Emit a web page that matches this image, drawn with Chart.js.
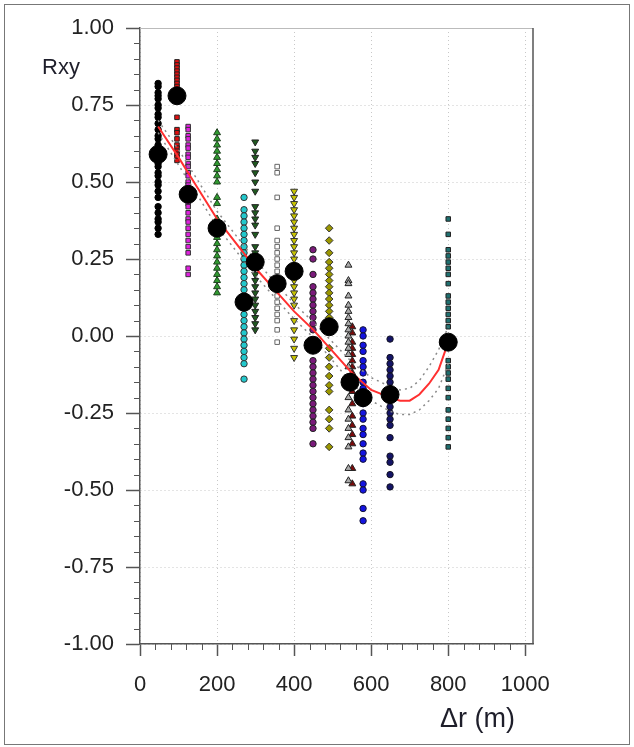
<!DOCTYPE html>
<html>
<head>
<meta charset="utf-8">
<script src="https://cdn.jsdelivr.net/npm/chart.js@4.4.1/dist/chart.umd.min.js"></script>
<style>
  body { margin: 0; background: #fff; }
  #wrap { position: relative; width: 634px; height: 747px; }
  #frame {
    position: absolute; left: 4px; top: 4px; width: 624px; height: 739px;
    border: 1px solid #777; pointer-events: none;
  }
</style>
</head>
<body>
<div id="wrap">
  <canvas id="rxyChart" width="634" height="747"></canvas>
  <div id="frame"></div>
</div>
<script>
// distance (m) of each group of pairs
const grupoX = [47, 96, 125, 200, 270, 299, 356, 400, 449, 491, 541, 551, 579, 649, 800];

// Rxy values of each group
const grupo1 = [0.82, 0.81, 0.79, 0.78, 0.77, 0.75, 0.74, 0.72, 0.71, 0.69, 0.67, 0.65, 0.64, 0.62, 0.60, 0.58, 0.56, 0.55, 0.53, 0.52, 0.50, 0.49, 0.47, 0.45, 0.42, 0.40, 0.38, 0.37, 0.35, 0.33];
const grupo2 = [0.89, 0.88, 0.87, 0.86, 0.85, 0.84, 0.83, 0.82, 0.81, 0.80, 0.79, 0.71, 0.67, 0.66, 0.64, 0.62, 0.61, 0.60, 0.59, 0.58, 0.57];
const grupo3 = [0.68, 0.67, 0.65, 0.64, 0.62, 0.61, 0.59, 0.58, 0.56, 0.55, 0.53, 0.52, 0.50, 0.49, 0.47, 0.45, 0.43, 0.42, 0.40, 0.38, 0.37, 0.35, 0.33, 0.31, 0.29, 0.27, 0.22, 0.20];
const grupo4 = [0.66, 0.64, 0.62, 0.60, 0.58, 0.56, 0.54, 0.52, 0.50, 0.45, 0.43, 0.38, 0.36, 0.34, 0.32, 0.30, 0.28, 0.26, 0.24, 0.22, 0.20, 0.18, 0.16, 0.14];
const grupo5 = [0.45, 0.41, 0.39, 0.37, 0.35, 0.33, 0.31, 0.29, 0.27, 0.25, 0.23, 0.21, 0.19, 0.17, 0.15, 0.13, 0.09, 0.07, 0.05, 0.03, 0.01, -0.01, -0.03, -0.05, -0.07, -0.09, -0.14];
const grupo6 = [0.63, 0.60, 0.58, 0.56, 0.53, 0.50, 0.47, 0.42, 0.40, 0.38, 0.36, 0.33, 0.29, 0.27, 0.25, 0.22, 0.20, 0.18, 0.16, 0.14, 0.12, 0.10, 0.08, 0.06, 0.04, 0.02];
const grupo7 = [0.55, 0.53, 0.45, 0.35, 0.31, 0.29, 0.27, 0.25, 0.23, 0.21, 0.19, 0.17, 0.15, 0.13, 0.11, 0.09, 0.07, 0.05, 0.02, -0.02];
const grupo8 = [0.47, 0.45, 0.43, 0.41, 0.39, 0.37, 0.35, 0.33, 0.31, 0.29, 0.27, 0.25, 0.20, 0.18, 0.16, 0.14, 0.12, 0.10, 0.05, 0.02, -0.01, -0.04, -0.07];
const grupo9 = [0.28, 0.25, 0.20, 0.16, 0.14, 0.12, 0.10, 0.08, 0.06, 0.04, 0.02, -0.08, -0.10, -0.12, -0.14, -0.16, -0.18, -0.20, -0.22, -0.24, -0.26, -0.28, -0.30, -0.35];
const grupo10 = [0.35, 0.31, 0.27, 0.24, 0.22, 0.20, 0.18, 0.16, 0.14, 0.12, 0.10, 0.08, 0.06, 0.03, -0.04, -0.07, -0.10, -0.13, -0.16, -0.18, -0.24, -0.27, -0.30, -0.36];
const grupo11 = [0.23, 0.18, 0.17, 0.13, 0.10, 0.08, 0.06, 0.04, 0.02, 0.00, -0.02, -0.04, -0.06, -0.10, -0.20, -0.24, -0.27, -0.30, -0.33, -0.36, -0.43, -0.47];
const grupo12 = [0.03, 0.01, -0.02, -0.04, -0.06, -0.08, -0.10, -0.12, -0.14, -0.18, -0.22, -0.26, -0.29, -0.32, -0.35, -0.43, -0.48];
const grupo13 = [0.02, 0.00, -0.03, -0.05, -0.08, -0.10, -0.12, -0.15, -0.17, -0.20, -0.22, -0.25, -0.27, -0.30, -0.32, -0.35, -0.38, -0.40, -0.48, -0.50, -0.56, -0.60];
const grupo14 = [-0.01, -0.07, -0.09, -0.11, -0.13, -0.15, -0.17, -0.19, -0.21, -0.23, -0.25, -0.27, -0.29, -0.33, -0.39, -0.41, -0.45, -0.49];
const grupo15 = [0.38, 0.33, 0.28, 0.26, 0.24, 0.22, 0.20, 0.17, 0.13, 0.11, 0.09, 0.07, 0.05, 0.03, -0.08, -0.10, -0.12, -0.14, -0.17, -0.20, -0.24, -0.27, -0.30, -0.33, -0.36];

// group means
const mediaX = [47, 96, 125, 200, 270, 299, 356, 400, 449, 491, 545, 579, 649, 800];
const mediaY = [0.59, 0.78, 0.46, 0.35, 0.11, 0.24, 0.17, 0.21, -0.03, 0.03, -0.15, -0.20, -0.19, -0.02];

// fitted curve and its confidence band
const ajusteX = [47, 100, 150, 200, 250, 300, 350, 400, 450, 500, 550, 600, 650, 675, 700, 725, 750, 775, 800];
const ajusteY = [0.68, 0.58, 0.48, 0.38, 0.30, 0.22, 0.15, 0.08, 0.02, -0.05, -0.12, -0.175, -0.20, -0.21, -0.21, -0.19, -0.155, -0.11, -0.02];
const bandaSup = [0.70, 0.605, 0.505, 0.405, 0.325, 0.245, 0.175, 0.105, 0.045, -0.02, -0.085, -0.135, -0.165, -0.175, -0.17, -0.145, -0.10, -0.045, 0.03];
const bandaInf = [0.66, 0.555, 0.455, 0.355, 0.275, 0.195, 0.125, 0.055, -0.005, -0.08, -0.155, -0.21, -0.245, -0.255, -0.255, -0.24, -0.21, -0.17, -0.09];

// axis ticks
const ticksX = [0, 200, 400, 600, 800, 1000];
const ticksY = [-1, -0.75, -0.5, -0.25, 0, 0.25, 0.5, 0.75, 1];

const grupos = [grupo1, grupo2, grupo3, grupo4, grupo5, grupo6, grupo7, grupo8, grupo9, grupo10, grupo11, grupo12, grupo13, grupo14, grupo15];
const estilos = [
  { fill: "#000000", border: "#000000", shape: "circle", rot: 0 },
  { fill: "#e01010", border: "#222222", shape: "rect", rot: 0 },
  { fill: "#e020e0", border: "#333333", shape: "rect", rot: 0 },
  { fill: "#2f9a2f", border: "#1f3f1f", shape: "triangle", rot: 0 },
  { fill: "#22c8cc", border: "#333333", shape: "circle", rot: 0 },
  { fill: "#1f5a1f", border: "#222222", shape: "triangle", rot: 180 },
  { fill: "#ffffff", border: "#666666", shape: "rect", rot: 0 },
  { fill: "#c8c400", border: "#333333", shape: "triangle", rot: 180 },
  { fill: "#7a1a7a", border: "#222222", shape: "circle", rot: 0 },
  { fill: "#9a9600", border: "#333333", shape: "rectRot", rot: 0 },
  { fill: "#aaaaaa", border: "#222222", shape: "triangle", rot: 0 },
  { fill: "#7a0a0a", border: "#222222", shape: "triangle", rot: 0 },
  { fill: "#1414e0", border: "#111133", shape: "circle", rot: 0 },
  { fill: "#141466", border: "#111122", shape: "circle", rot: 0 },
  { fill: "#1f7070", border: "#222222", shape: "rect", rot: 0 },
];

let rxyChart;

const extrasPlugin = {
  id: "extras",
  afterDraw(chart) {
    const ctx = chart.ctx;
    const area = chart.chartArea;
    const sx = chart.scales.x;
    const sy = chart.scales.y;
    ctx.save();
    // frame top and right
    ctx.strokeStyle = "#bbbbbb";
    ctx.lineWidth = 1;
    ctx.beginPath();
    ctx.moveTo(area.left, area.top + 0.5);
    ctx.lineTo(area.right, area.top + 0.5);
    ctx.stroke();
    ctx.strokeStyle = "#555555";
    ctx.lineWidth = 1.5;
    ctx.beginPath();
    ctx.moveTo(area.right, area.top);
    ctx.lineTo(area.right, area.bottom);
    ctx.stroke();
    // minor ticks
    ctx.strokeStyle = "#555555";
    ctx.lineWidth = 1;
    ctx.beginPath();
    for (let v = 40; v < 1020; v += 40) {
      if (v % 200 === 0) continue;
      const px = Math.round(sx.getPixelForValue(v)) + 0.5;
      ctx.moveTo(px, area.bottom);
      ctx.lineTo(px, area.bottom + 6);
    }
    for (let i = -20; i <= 20; i++) {
      if (i % 5 === 0) continue;
      const py = Math.round(sy.getPixelForValue(i * 0.05)) + 0.5;
      ctx.moveTo(area.left - 6, py);
      ctx.lineTo(area.left, py);
    }
    ctx.stroke();
    // axis titles
    ctx.fillStyle = "#1e1e2a";
    ctx.font = "22px 'Liberation Sans', Arial, sans-serif";
    ctx.textBaseline = "alphabetic";
    ctx.textAlign = "left";
    ctx.fillText("Rxy", 42, 74);
    ctx.font = "27px 'Liberation Sans', Arial, sans-serif";
    ctx.fillText("\u0394r (m)", 440, 727);
    ctx.restore();
  },
};

function crearChart() {
  const ctx = document.getElementById("rxyChart").getContext("2d");

  const datasets = [];

  datasets.push({
    label: "media",
    data: mediaX.map((x, i) => ({ x: x, y: mediaY[i] })),
    pointRadius: 9,
    pointBackgroundColor: "#000000",
    pointBorderColor: "#000000",
    showLine: false,
    order: 0,
  });

  datasets.push({
    label: "ajuste",
    data: ajusteX.map((x, i) => ({ x: x, y: ajusteY[i] })),
    showLine: true,
    borderColor: "#ff3030",
    borderWidth: 2,
    pointRadius: 0,
    tension: 0,
    order: 1,
  });

  [bandaSup, bandaInf].forEach((banda, k) => {
    datasets.push({
      label: k === 0 ? "sup" : "inf",
      data: ajusteX.map((x, i) => ({ x: x, y: banda[i] })),
      showLine: true,
      borderColor: "#8a8a8a",
      borderWidth: 1.5,
      borderDash: [2, 4],
      pointRadius: 0,
      order: 2,
    });
  });

  grupos.forEach((valores, g) => {
    const est = estilos[g];
    datasets.push({
      label: "grupo " + (g + 1),
      data: valores.map((y) => ({ x: grupoX[g], y: y })),
      showLine: false,
      pointStyle: est.shape,
      rotation: est.rot,
      pointRadius: est.shape === "triangle" ? 4 : est.shape === "rectRot" ? 3.8 : 3.2,
      pointBackgroundColor: est.fill,
      pointBorderColor: est.border,
      pointBorderWidth: 1,
      order: 3,
    });
  });

  rxyChart = new Chart(ctx, {
    type: "scatter",
    data: { datasets: datasets },
    options: {
      responsive: false,
      animation: false,
      layout: { padding: { left: 0, right: 101, top: 28, bottom: 0 } },
      plugins: {
        legend: { display: false },
        tooltip: { enabled: false },
      },
      scales: {
        x: {
          type: "linear",
          min: 0,
          max: 1020,
          afterBuildTicks: (s) => {
            s.ticks = ticksX.map((v) => ({ value: v }));
          },
          afterFit: (s) => {
            s.height = 103;
          },
          ticks: {
            color: "#222222",
            padding: 16,
            font: { family: "'Liberation Sans', Arial, sans-serif", size: 22 },
            callback: (v) => String(v),
          },
          grid: {
            color: "#c8c8c8",
            lineWidth: 1,
            tickLength: 12,
            tickColor: "#555555",
            tickWidth: 1.5,
          },
          border: { color: "#555555", width: 1.5, dash: [1, 3] },
        },
        y: {
          type: "linear",
          min: -1,
          max: 1,
          afterBuildTicks: (s) => {
            s.ticks = ticksY.map((v) => ({ value: v }));
          },
          afterFit: (s) => {
            s.width = 140;
          },
          ticks: {
            color: "#222222",
            padding: 12,
            font: { family: "'Liberation Sans', Arial, sans-serif", size: 22 },
            callback: (v) => Number(v).toFixed(2),
          },
          grid: {
            color: "#c8c8c8",
            lineWidth: 1,
            tickLength: 14,
            tickColor: "#555555",
            tickWidth: 1.5,
          },
          border: { color: "#555555", width: 1.5, dash: [1, 3] },
        },
      },
    },
    plugins: [extrasPlugin],
  });
}

document.addEventListener("DOMContentLoaded", crearChart);
</script>
</body>
</html>
